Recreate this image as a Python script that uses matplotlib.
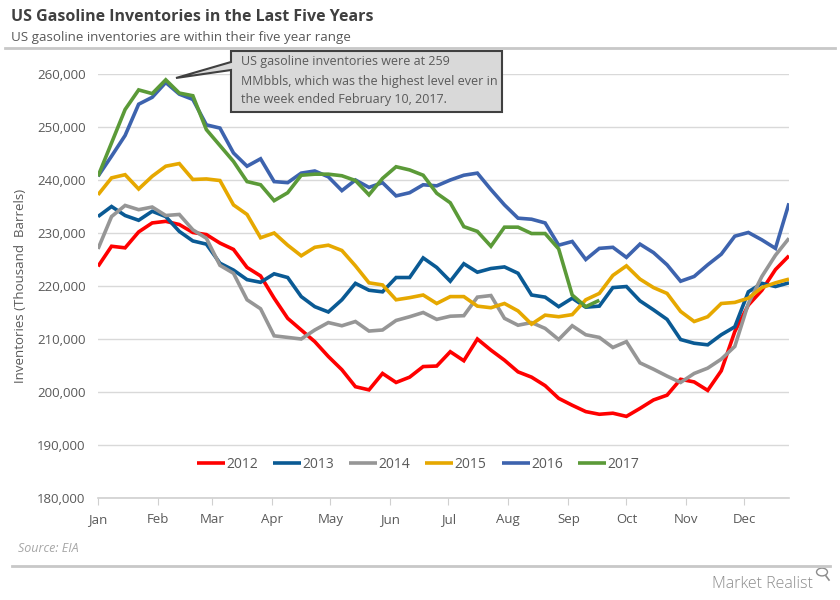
import matplotlib.pyplot as plt
from matplotlib.patches import Polygon, Circle
from matplotlib.lines import Line2D

plt.rcParams['font.family'] = ['Open Sans', 'DejaVu Sans']

# weekly inventories, thousand barrels
inv_2012 = [223.7, 227.5, 227.2, 230.2, 231.9, 232.2, 231.6, 230.1, 229.7, 228.1,
            226.9, 223.5, 221.9, 217.7, 213.9, 211.7, 209.5, 206.7, 204.2, 201.0,
            200.4, 203.5, 201.8, 202.8, 204.8, 204.9, 207.6, 205.9, 210.0, 207.9,
            206.0, 203.8, 202.8, 201.2, 198.8, 197.5, 196.3, 195.8, 196.0, 195.4,
            196.9, 198.5, 199.4, 202.4, 201.9, 200.3, 204.0, 211.4, 216.4, 219.2,
            223.1, 225.7]
inv_2013 = [233.1, 235.0, 233.3, 232.4, 234.1, 233.1, 230.3, 228.5, 227.9, 224.3,
            223.0, 221.2, 220.7, 222.3, 221.6, 218.0, 216.1, 215.1, 217.4, 220.5,
            219.2, 218.9, 221.6, 221.6, 225.3, 223.5, 220.9, 224.2, 222.6, 223.3,
            223.6, 222.4, 218.3, 217.9, 216.1, 217.7, 216.0, 216.2, 219.7, 219.9,
            217.2, 215.5, 213.7, 209.9, 209.2, 208.9, 210.8, 212.3, 218.9, 220.5,
            219.9, 220.6]
inv_2014 = [227.0, 233.1, 235.2, 234.4, 234.9, 233.3, 233.5, 230.6, 229.0, 223.9,
            222.4, 217.4, 215.7, 210.6, 210.3, 210.0, 211.7, 213.1, 212.5, 213.3,
            211.5, 211.7, 213.5, 214.2, 215.0, 213.7, 214.3, 214.4, 217.9, 218.2,
            213.9, 212.6, 213.1, 212.0, 209.9, 212.5, 210.8, 210.3, 208.4, 209.5,
            205.5, 204.3, 203.0, 201.8, 203.5, 204.5, 206.2, 208.6, 216.7, 221.8,
            225.8, 229.0]
inv_2015 = [237.2, 240.4, 241.0, 238.3, 240.7, 242.6, 243.1, 240.1, 240.2, 239.9,
            235.3, 233.5, 229.1, 230.0, 227.7, 225.7, 227.3, 227.7, 226.7, 223.8,
            220.6, 220.2, 217.4, 217.8, 218.3, 216.7, 218.0, 218.0, 216.2, 215.9,
            216.7, 215.3, 212.8, 214.5, 214.2, 214.6, 217.4, 218.6, 222.0, 223.8,
            221.3, 219.7, 218.6, 215.2, 213.3, 214.2, 216.7, 216.9, 217.7, 219.7,
            220.6, 221.3]
inv_2016 = [240.7, 244.5, 248.4, 254.3, 255.6, 258.4, 256.2, 255.2, 250.4, 249.8,
            245.1, 242.6, 244.0, 239.7, 239.5, 241.3, 241.7, 240.6, 238.0, 240.0,
            238.6, 239.5, 237.0, 237.6, 239.1, 238.9, 240.0, 240.9, 241.3, 238.2,
            235.3, 232.8, 232.6, 231.9, 227.7, 228.4, 225.0, 227.1, 227.3, 225.4,
            227.9, 226.3, 224.0, 220.9, 221.8, 224.0, 226.0, 229.4, 230.1, 228.7,
            227.1, 235.6]
inv_2017 = [240.7, 247.0, 253.3, 257.0, 256.3, 258.9, 256.4, 255.9, 249.5, 246.5,
            243.5, 239.7, 239.1, 236.1, 237.6, 240.9, 241.1, 241.1, 240.8, 239.9,
            237.2, 240.3, 242.5, 241.9, 240.9, 237.5, 235.7, 231.2, 230.3, 227.5,
            231.1, 231.1, 229.9, 229.9, 227.0, 218.3, 216.1, 217.3]

years = ['2012', '2013', '2014', '2015', '2016', '2017']
series = [inv_2012, inv_2013, inv_2014, inv_2015, inv_2016, inv_2017]
colors = ['#ff0000', '#0a5a94', '#969696', '#e6a800', '#3d63ae', '#5b9a38']

months = ['Jan', 'Feb', 'Mar', 'Apr', 'May', 'Jun', 'Jul', 'Aug', 'Sep', 'Oct', 'Nov', 'Dec']
month_days = [0, 31, 59, 90, 120, 151, 181, 212, 243, 273, 304, 334]
yticks = [180000, 190000, 200000, 210000, 220000, 230000, 240000, 250000, 260000]

W, H = 840, 600


def fx(x):
    return x / W


def fy(y):
    return 1 - y / H


fig = plt.figure(figsize=(8.4, 6.0), dpi=100)
ax = fig.add_axes([fx(98), fy(498), fx(789) - fx(98), fy(74) - fy(498)])

for year, vals, c in zip(years, series, colors):
    days = [7 * i for i in range(len(vals))]
    ax.plot(days, [v * 1000 for v in vals], color=c, lw=2.6, label=year,
            solid_joinstyle='miter', solid_capstyle='butt')

ax.set_xlim(0, 357)
ax.set_ylim(180000, 260000)
ax.set_yticks(yticks)
ax.set_yticklabels([f'{t:,}' for t in yticks])
ax.set_xticks(month_days)
ax.set_xticklabels(months)
ax.grid(axis='y', color='#d9d9d9', lw=1)
ax.set_axisbelow(True)
for s in ['top', 'right', 'left']:
    ax.spines[s].set_visible(False)
ax.spines['bottom'].set_color('#d0d0d0')
ax.spines['bottom'].set_linewidth(1.2)
ax.tick_params(axis='y', length=0, pad=9, labelsize=9.5, labelcolor='#595959')
ax.tick_params(axis='x', length=5, color='#d0d0d0', pad=6, labelsize=9.5, labelcolor='#595959')
ax.set_ylabel('Inventories (Thousand  Barrels)', fontsize=9.5, color='#595959', va='center')
ax.yaxis.set_label_coords((21 - 98) / 691, 0.5)

ax.legend(loc='center', bbox_to_anchor=(0.463, 0.08), ncol=6, frameon=False,
          fontsize=10, labelcolor='#595959', handlelength=2.0, handletextpad=0.1,
          columnspacing=1.1)

# titles
fig.text(fx(11), fy(17), 'US Gasoline Inventories in the Last Five Years',
         fontsize=11.5, fontweight='bold', color='#404040', va='center')
fig.text(fx(11), fy(37), 'US gasoline inventories are within their five year range',
         fontsize=9.6, color='#595959', va='center')
fig.add_artist(Line2D([fx(5), fx(835)], [fy(48), fy(48)], color='#c8c8c8', lw=2))

# callout
callout = [(231, 51), (502, 51), (502, 112), (231, 112), (231, 70), (176, 78), (231, 62)]
fig.add_artist(Polygon([(fx(x), fy(y)) for x, y in callout], closed=True,
                       transform=fig.transFigure, facecolor='#d9d9d9',
                       edgecolor='#404040', lw=1.5))
fig.text(fx(241), fy(81), 'US gasoline inventories were at 259\nMMbbls, which was the highest level ever in\nthe week ended February 10, 2017.',
         fontsize=9, color='#595959', va='center', linespacing=1.6)

# footer
fig.text(fx(18), fy(549), 'Source: EIA', fontsize=9, style='italic', color='#a6a6a6', va='center')
fig.add_artist(Line2D([fx(12), fx(830)], [fy(566), fy(566)], color='#c8c8c8', lw=2))
fig.text(fx(813), fy(584), 'Market Realist', fontsize=11.5, color='#8c8c8c',
         ha='right', va='center', fontweight='light')
fig.add_artist(Circle((fx(822), fy(572)), 0.0065, transform=fig.transFigure,
                      facecolor='none', edgecolor='#8c8c8c', lw=1))
fig.add_artist(Line2D([fx(826), fx(829)], [fy(576), fy(580)], color='#8c8c8c', lw=1.2))

fig.savefig('out.png', dpi=100)
